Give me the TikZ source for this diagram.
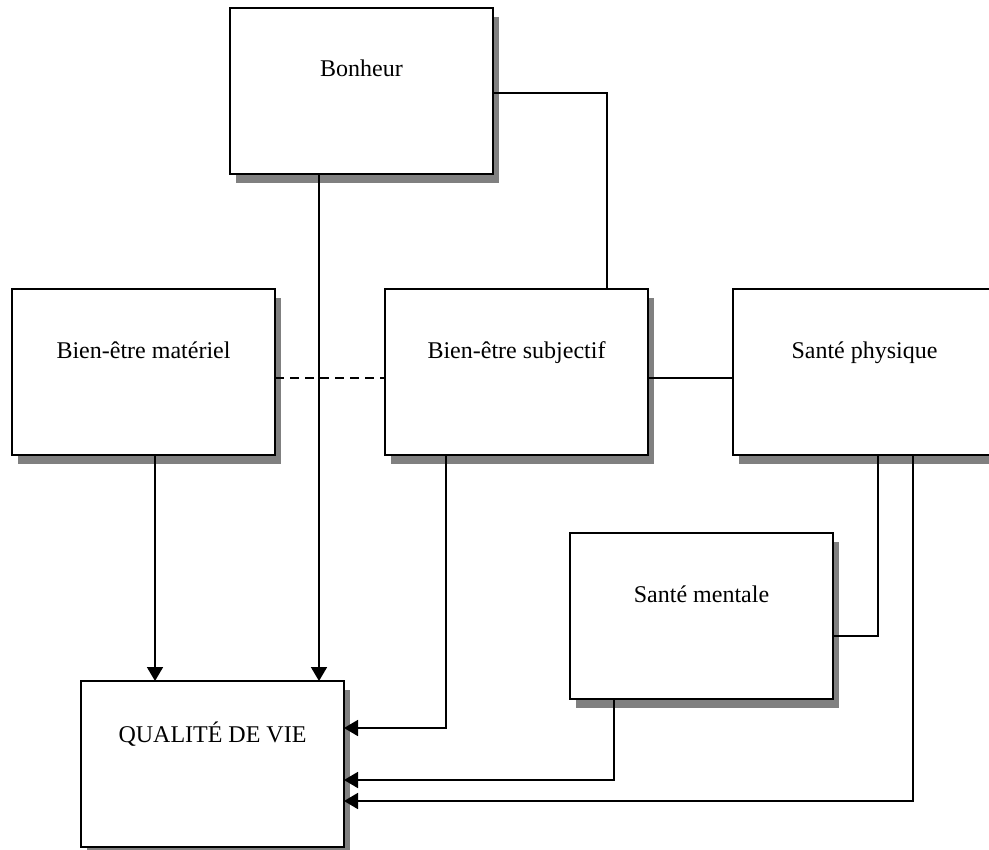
\documentclass[tikz,border=0pt]{standalone}
\usepackage{fontspec}
\setmainfont{Liberation Serif}
\usetikzlibrary{shadows,arrows.meta}
\begin{document}
\begin{tikzpicture}[x=0.5pt,y=-0.5pt,
  box/.style={draw, line width=1.3pt, fill=white, rectangle, anchor=north west,
    minimum width=131.5pt, minimum height=83pt, inner sep=0pt, outer sep=0pt,
    drop shadow={shadow xshift=3pt, shadow yshift=-4.5pt, opacity=1, fill=black!50}},
  lbl/.style={anchor=base, inner sep=0pt, font=\fontsize{12}{14}\selectfont},
  conn/.style={line width=0.9pt},
  arr/.style={conn, -{Triangle[length=7pt,width=8pt]}},
  dsh/.style={conn, dash pattern=on 4.5pt off 3pt}]
\useasboundingbox (0,0) rectangle (989,850);
\clip (0,0) rectangle (989,850);
% boxes
\node[box] (bon)  at (230,8)   {};
\node[box] (mat)  at (12,289)  {};
\node[box] (subj) at (385,289) {};
\node[box] (phys) at (733,289) {};
\node[box] (ment) at (570,533) {};
\node[box] (qual) at (81,681)  {};
% labels
\node[lbl] (tbon)  at ([yshift=-34.5pt]bon.north)  {Bonheur};
\node[lbl] (tmat)  at ([yshift=-34.5pt]mat.north)  {Bien-être matériel};
\node[lbl] (tsubj) at ([yshift=-34.5pt]subj.north) {Bien-être subjectif};
\node[lbl] (tphys) at ([yshift=-34.5pt]phys.north) {Santé physique};
\node[lbl] (tment) at ([yshift=-34.5pt]ment.north) {Santé mentale};
\node[lbl] (tqual) at ([yshift=-30.5pt]qual.north) {QUALITÉ DE VIE};
% connectors
\draw[conn] ([yshift=-1pt]bon.east) -| ([xshift=111pt]subj.north west);
\draw[arr] ([xshift=44.5pt]bon.south west) -- ([xshift=44.5pt]bon.south west |- qual.north);
\draw[arr] ([xshift=71.5pt]mat.south west) -- ([xshift=71.5pt]mat.south west |- qual.north);
\draw[dsh] ([yshift=-3pt]mat.east) -- ([yshift=-3pt]subj.west);
\draw[conn] ([yshift=-3pt]subj.east) -- ([yshift=-3pt]phys.west);
\draw[arr] ([xshift=30.5pt]subj.south west) |- ([yshift=-23.5pt]qual.north east);
\draw[arr] ([xshift=22pt]ment.south west) |- ([yshift=-49.5pt]qual.north east);
\draw[conn] ([xshift=72.5pt]phys.south west) |- ([yshift=-51.5pt]ment.north east);
\draw[arr] ([xshift=90pt]phys.south west) |- ([yshift=-60pt]qual.north east);
\end{tikzpicture}
\end{document}
